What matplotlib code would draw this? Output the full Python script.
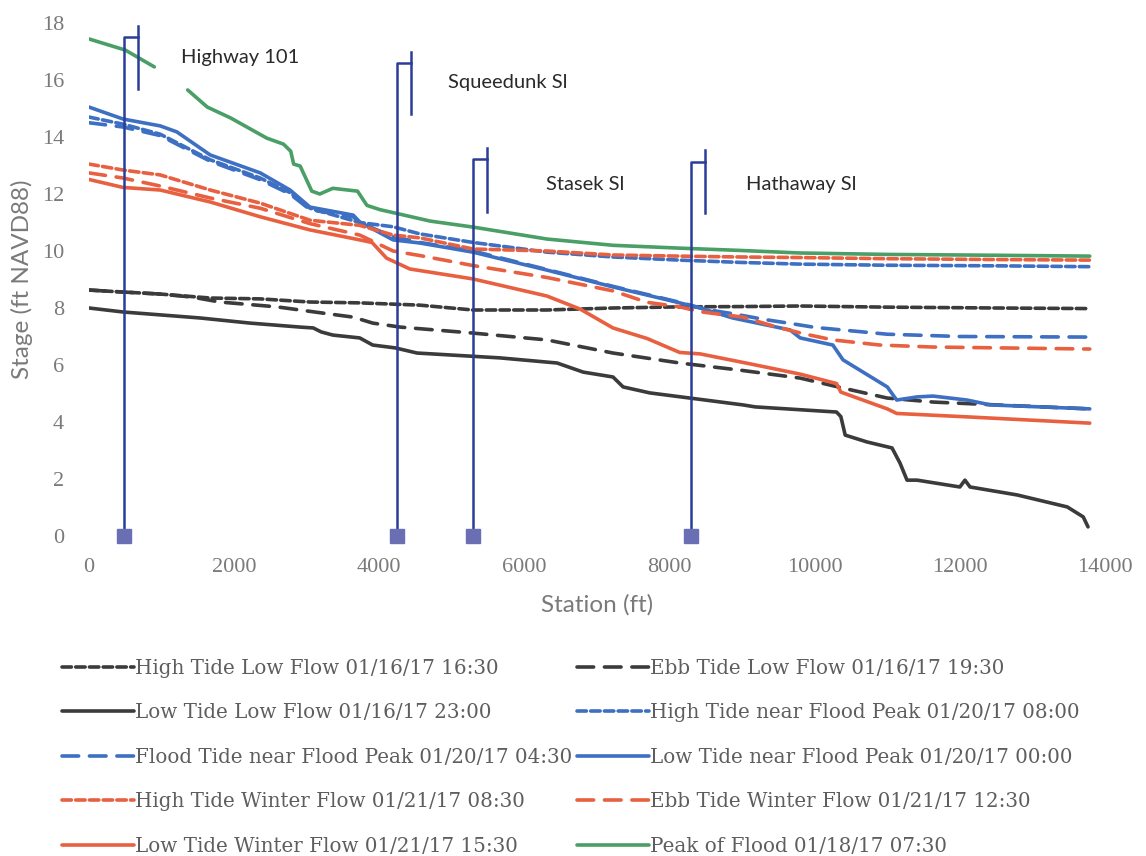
import numpy as np
import matplotlib.pyplot as plt

# station (ft) and stage (ft NAVD88)
ht_lowflow_x = [0, 470, 980, 1670, 2360, 3045, 3730, 4560, 5290, 6310, 7220, 8140, 8970, 9800, 11000, 12500, 13790]
ht_lowflow_y = [8.63, 8.56, 8.49, 8.35, 8.32, 8.21, 8.18, 8.10, 7.93, 7.93, 8.0, 8.04, 8.05, 8.07, 8.03, 8.0, 7.98]

ebb_lowflow_x = [0, 470, 980, 1430, 1800, 2590, 3225, 3640, 3910, 4290, 5290, 6310, 7220, 8140, 8970, 9800, 10390,
                 11000, 11630, 12500, 13790]
ebb_lowflow_y = [8.63, 8.56, 8.49, 8.38, 8.21, 8.04, 7.82, 7.68, 7.47, 7.33, 7.12, 6.88, 6.42, 6.07, 5.82, 5.54, 5.19,
                 4.84, 4.7, 4.6, 4.46]

lt_lowflow_x = [0, 470, 1530, 2220, 2910, 3090, 3200, 3360, 3730, 3910, 4220, 4520, 5660, 6450, 6810, 7220, 7360,
                7730, 8280, 9010, 9180, 10300, 10360, 10420, 10720, 11065, 11175, 11272, 11410, 12000, 12070, 12140,
                12790, 13480, 13700, 13766]
lt_lowflow_y = [8.0, 7.86, 7.65, 7.47, 7.33, 7.3, 7.16, 7.05, 6.95, 6.7, 6.6, 6.42, 6.25, 6.07, 5.75, 5.58, 5.23,
                5.02, 4.84, 4.6, 4.53, 4.35, 4.19, 3.54, 3.3, 3.09, 2.56, 1.96, 1.96, 1.72, 1.96, 1.72,
                1.44, 1.02, 0.67, 0.32]

ht_peak_x = [0, 470, 980, 1670, 2360, 2770, 3045, 3730, 4190, 4560, 5290, 6310, 7220, 8140, 8970, 9800, 11000,
             12500, 13790]
ht_peak_y = [14.7, 14.45, 14.1, 13.2, 12.56, 12.05, 11.5, 11.0, 10.85, 10.6, 10.3, 9.96, 9.79, 9.68, 9.6, 9.54, 9.5,
             9.48, 9.45]

flood_peak_x = [0, 470, 980, 1670, 2360, 2770, 3045, 3640, 3730, 4190, 4560, 5290, 6310, 7220, 8140, 8500, 8870,
                9300, 9660, 10000, 10500, 11000, 12000, 13790]
flood_peak_y = [14.5, 14.35, 14.05, 13.15, 12.5, 12.0, 11.45, 11.2, 11.0, 10.5, 10.3, 10.0, 9.35, 8.76, 8.2, 7.95,
                7.8, 7.6, 7.46, 7.32, 7.2, 7.08, 7.0, 6.98]

lt_peak_x = [0, 470, 980, 1210, 1670, 2360, 2770, 3045, 3640, 3730, 4190, 4560, 5290, 6310, 7220, 8140, 8420, 8870,
             9660, 9800, 10250, 10390, 11000, 11130, 11410, 11630, 12100, 12420, 13790]
lt_peak_y = [15.05, 14.63, 14.39, 14.18, 13.37, 12.74, 12.14, 11.54, 11.26, 11.02, 10.39, 10.28, 9.96, 9.33, 8.74,
             8.18, 8.0, 7.65, 7.23, 6.95, 6.7, 6.18, 5.23, 4.77, 4.88, 4.91, 4.77, 4.6, 4.46]

ht_winter_x = [0, 470, 980, 1670, 2360, 3045, 3730, 4190, 4560, 5290, 6310, 7220, 8140, 8970, 9800, 11000, 12500,
               13790]
ht_winter_y = [13.05, 12.84, 12.67, 12.14, 11.68, 11.08, 10.9, 10.56, 10.46, 10.07, 10.0, 9.86, 9.82, 9.79, 9.77,
               9.73, 9.7, 9.68]

ebb_winter_x = [0, 470, 980, 1670, 2360, 3045, 3730, 4190, 4560, 5290, 6310, 7220, 7690, 8140, 8420, 9010, 9480,
                9840, 10250, 10900, 11630, 13790]
ebb_winter_y = [12.74, 12.56, 12.28, 11.86, 11.5, 10.96, 10.56, 10.0, 9.84, 9.49, 9.07, 8.6, 8.2, 8.04, 7.87, 7.68,
                7.33, 7.1, 6.88, 6.7, 6.63, 6.56]

lt_winter_x = [0, 470, 980, 1670, 2360, 3045, 3730, 3900, 4100, 4420, 5290, 6310, 6770, 7220, 7690, 8140, 8420, 9110,
               9800, 10300, 10360, 11000, 11130, 12100, 13790]
lt_winter_y = [12.51, 12.23, 12.14, 11.72, 11.2, 10.74, 10.39, 10.3, 9.75, 9.37, 9.02, 8.42, 7.96, 7.3, 6.93, 6.44,
               6.39, 6.04, 5.68, 5.35, 5.05, 4.46, 4.3, 4.18, 3.96]

# peak of flood has a gap in the record near 1000 ft
peak_flood_x = [0, 500, 900, 1100, 1360, 1630, 1950, 2450, 2680, 2780, 2820, 2910, 3070, 3180, 3360, 3700, 3830,
                4010, 4220, 4700, 5290, 6310, 7220, 8140, 8970, 9800, 11000, 12500, 13790]
peak_flood_y = [17.44, 17.05, 16.46, np.nan, 15.65, 15.05, 14.67, 13.96, 13.75, 13.5, 13.05, 12.98, 12.1, 12.0, 12.2,
                12.1, 11.6, 11.45, 11.33, 11.05, 10.84, 10.42, 10.2, 10.1, 10.02, 9.93, 9.88, 9.85, 9.82]

# structure locations
struct_names = ['Highway 101', 'Squeedunk Sl', 'Stasek Sl', 'Hathaway Sl']
struct_x = [480, 4240, 5290, 8290]
struct_top = [17.5, 16.6, 13.23, 13.12]
struct_tick_hi = [17.9, 17.0, 13.6, 13.54]
struct_tick_lo = [15.7, 14.8, 11.37, 11.33]
label_x = [1270, 4950, 6300, 9050]
label_y = [16.8, 15.9, 12.35, 12.35]

BLACK = '#3b3b3b'
BLUE = '#3d6fc2'
RED = '#e8603f'
GREEN = '#4a9f66'
short = (0, (2.6, 1.2))
long = (0, (4.6, 3.0))

fig = plt.figure(figsize=(11.46, 8.56), dpi=100)
ax = fig.add_axes([89 / 1146, 1 - 536 / 856, 1016 / 1146, 513 / 856])

series = [
    (ht_lowflow_x, ht_lowflow_y, BLACK, short, 'High Tide Low Flow 01/16/17 16:30'),
    (ebb_lowflow_x, ebb_lowflow_y, BLACK, long, 'Ebb Tide Low Flow 01/16/17 19:30'),
    (lt_lowflow_x, lt_lowflow_y, BLACK, '-', 'Low Tide Low Flow 01/16/17 23:00'),
    (ht_peak_x, ht_peak_y, BLUE, short, 'High Tide near Flood Peak 01/20/17 08:00'),
    (flood_peak_x, flood_peak_y, BLUE, long, 'Flood Tide near Flood Peak 01/20/17 04:30'),
    (lt_peak_x, lt_peak_y, BLUE, '-', 'Low Tide near Flood Peak 01/20/17 00:00'),
    (ht_winter_x, ht_winter_y, RED, short, 'High Tide Winter Flow 01/21/17 08:30'),
    (ebb_winter_x, ebb_winter_y, RED, long, 'Ebb Tide Winter Flow 01/21/17 12:30'),
    (lt_winter_x, lt_winter_y, RED, '-', 'Low Tide Winter Flow 01/21/17 15:30'),
    (peak_flood_x, peak_flood_y, GREEN, '-', 'Peak of Flood 01/18/17 07:30'),
]

lines = []
for x, y, c, ls, name in series:
    ln, = ax.plot(x, y, color=c, ls=ls, lw=2.6, solid_capstyle='round', dash_capstyle='round', label=name)
    lines.append(ln)

# structure markers
for i in range(len(struct_x)):
    sx = struct_x[i]
    hook = sx + 200
    ax.plot([sx, sx, hook], [0, struct_top[i], struct_top[i]], color='#2b3d99', lw=1.8, clip_on=False)
    ax.plot([hook, hook], [struct_tick_lo[i], struct_tick_hi[i]], color='#2b3d99', lw=1.8, clip_on=False)
    ax.plot(sx, 0, marker='s', ms=10, color='#6a6fb3', clip_on=False, zorder=5)
    ax.text(label_x[i], label_y[i], struct_names[i], fontsize=14.5, family='Lato', color='#2a2a2a',
            ha='left', va='center')

ax.set_xlim(0, 14000)
ax.set_ylim(0, 18)
ax.set_xticks(range(0, 14001, 2000))
ax.set_yticks(range(0, 19, 2))
for s in ax.spines.values():
    s.set_visible(False)
ax.tick_params(length=0, labelsize=16, labelcolor='#7a7a7a')
ax.tick_params(axis='x', pad=16)
ax.tick_params(axis='y', pad=18)
for lab in ax.get_xticklabels() + ax.get_yticklabels():
    lab.set_family('Liberation Serif')

ax.set_xlabel('Station (ft)', fontsize=17.5, family='Lato', color='#7a7a7a', labelpad=12)
ax.set_ylabel('Stage (ft NAVD88)', fontsize=17.5, family='Lato', color='#7a7a7a', labelpad=6)

# legend reads across rows: two columns placed separately
leg_kw = dict(loc='upper left', frameon=False, prop={'family': 'DejaVu Serif', 'size': 14.3},
              handlelength=3.6, handletextpad=0.1, labelspacing=1.28, borderpad=0, borderaxespad=0)
col1 = [lines[k] for k in (0, 2, 4, 6, 8)]
col2 = [lines[k] for k in (1, 3, 5, 7, 9)]
leg1 = fig.legend(col1, [l.get_label() for l in col1], bbox_to_anchor=(62 / 1146, 1 - 659 / 856), **leg_kw)
leg2 = fig.legend(col2, [l.get_label() for l in col2], bbox_to_anchor=(577 / 1146, 1 - 659 / 856), **leg_kw)
for lg in (leg1, leg2):
    for t in lg.get_texts():
        t.set_color('#5e5e5e')

fig.savefig('out.png', dpi=100)
